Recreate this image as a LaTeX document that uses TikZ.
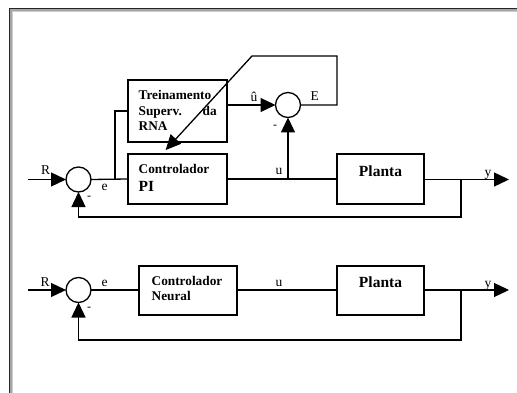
\documentclass[tikz,border=0pt]{standalone}
\usepackage{fontspec}
\setmainfont{Liberation Serif}
\usetikzlibrary{arrows.meta}
\begin{document}
\begin{tikzpicture}[x=1pt,y=-1pt,
  line width=1.3pt,
  blk/.style={draw,line width=1.3pt,minimum width=#1,inner sep=0pt,outer sep=0pt},
  sumnode/.style={circle,draw,line width=1.3pt,minimum size=25pt,inner sep=0pt,outer sep=0pt},
  lab/.style={font=\fontsize{13.5}{14}\selectfont,anchor=base west,inner sep=0pt},
  btxt/.style={font=\fontsize{13.3}{14}\bfseries\selectfont,anchor=base west,inner sep=0pt},
  bigtxt/.style={font=\fontsize{15.5}{16}\bfseries\selectfont,inner sep=0pt},
  arr/.style={-{Triangle[length=15pt,width=14pt]}},
  minus/.style={font=\fontsize{12}{12}\selectfont,inner sep=0pt}]
\useasboundingbox (0,0) rectangle (517,393);
\fill[white] (0,0) rectangle (517,393);
% frame
\fill[gray!70] (9,8) rectangle (12.5,393);
\fill[gray!70] (9,8) rectangle (517,11.5);
\draw[line width=0.8pt,black!85] (9.4,393) -- (9.4,8.4) -- (517,8.4);
\draw[line width=0.6pt,gray!40] (12.2,393) -- (12.2,11.2) -- (517,11.2);

% ---------- top diagram ----------
\node[sumnode] (s1) at (78.5,179.5) {};
\node[sumnode] (s2) at (288,105) {};
\node[blk=99pt,minimum height=62pt] (tr) at (177.5,111) {};
\node[blk=99pt,minimum height=50pt] (pi) at (177.5,179) {};
\node[blk=87pt,minimum height=50pt] (pl) at (380.5,179) {};
\coordinate (rin) at (28,179.5);
\coordinate (ej) at (115,179.5);
\coordinate (uj) at (288,179.5);
\coordinate (yj) at (461,179.5);
\coordinate (yout) at (509,179.5);
\coordinate (ec) at (337,105);
\coordinate (top1) at (337,56);
\coordinate (top2) at (252,56);
\coordinate (tip) at (165.7,150);

\draw[arr] (rin) -- (s1.west);
\draw (s1.east) -- (pi.west);
\draw (ej) |- (tr.west);
\draw (pi.east) -- (pl.west);
\draw[arr] (uj) -- (s2.south);
\draw[arr] (tr.east |- s2) -- (s2.west);
\draw[arr] (pl.east |- yout) -- (yout);
\draw[arr] (yj) -- (461,217) -| (s1.south);
\draw[arr] (s2.east) -- (ec) -- (top1) -- (top2) -- (tip);

\node[btxt] (t1) at (138,100) {Treinamento};
\node[btxt] (t2) at (138,115.5) {Superv.};
\node[btxt] (t3) at (202,115.5) {da};
\node[btxt] (t4) at (138,131) {RNA};
\node[btxt] (c1) at (138,174) {Controlador};
\node[bigtxt,anchor=base west] (c2) at (138,192) {PI};
\node[bigtxt,anchor=base] (p1) at (380.5,176) {Planta};

\node[lab] (lR1) at (40.5,175) {R};
\node[lab] (le1) at (101,190) {e};
\node[lab] (lu1) at (275,175) {u};
\node[lab] (ly1) at (484,176) {y};
\node[lab] (luh) at (250,102) {û};
\node[lab] (lE) at (310,101) {E};
\node[minus] (m1) at (89,198) {-};
\node[minus] (m2) at (275,127) {-};

% ---------- bottom diagram ----------
\node[sumnode] (s3) at (78.5,290) {};
\node[blk=98pt,minimum height=49pt] (nc) at (188,290.5) {};
\node[blk=87pt,minimum height=49pt] (pl2) at (380.5,290.5) {};
\coordinate (rin2) at (28,290);
\coordinate (yj2) at (461,290);
\coordinate (yout2) at (509,290);

\draw[arr] (rin2) -- (s3.west);
\draw (s3.east) -- (nc.west |- s3);
\draw (nc.east |- s3) -- (pl2.west |- s3);
\draw[arr] (pl2.east |- yout2) -- (yout2);
\draw[arr] (yj2) -- (461,340) -| (s3.south);

\node[btxt] (n1) at (151,285) {Controlador};
\node[btxt] (n2) at (151,300) {Neural};
\node[bigtxt,anchor=base] (p2) at (380.5,287) {Planta};

\node[lab] (lR2) at (40,286.5) {R};
\node[lab] (le2) at (101,286) {e};
\node[lab] (lu2) at (275,286) {u};
\node[lab] (ly2) at (484,287) {y};
\node[minus] (m3) at (89,309) {-};
\end{tikzpicture}
\end{document}
